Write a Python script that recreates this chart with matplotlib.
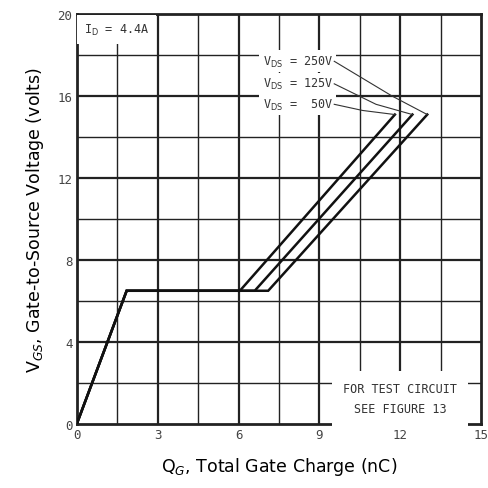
import numpy as np
import matplotlib.pyplot as plt

# gate charge curves
vds_labels = ['250V', '125V', '50V']
qg_250 = [0, 1.85, 7.1, 13.0]
qg_125 = [0, 1.85, 6.6, 12.45]
qg_50 = [0, 1.85, 6.05, 11.8]
vgs = [0, 6.5, 6.5, 15.1]

xticks = [0, 3, 6, 9, 12, 15]
yticks = [0, 4, 8, 12, 16, 20]

fig = plt.figure(figsize=(4.89, 4.89), dpi=100)
ax = fig.add_axes([0.157, 0.131, 0.827, 0.838])

# grid: minor every 1.5 / 2, major every 3 / 4
for x in np.arange(1.5, 15, 1.5):
    lw = 1.6 if x % 3 == 0 else 1.0
    ax.axvline(x, color='#222222', lw=lw, zorder=1)
for y in np.arange(2, 20, 2):
    lw = 1.6 if y % 4 == 0 else 1.0
    ax.axhline(y, color='#222222', lw=lw, zorder=1)

for q in (qg_250, qg_125, qg_50):
    ax.plot(q, vgs, color='#111111', lw=1.8, zorder=3, solid_joinstyle='miter')

mono = 'DejaVu Sans Mono'
bb = dict(facecolor='white', edgecolor='none', pad=2.5)

ax.text(0.25, 19.6, r'I$_\mathrm{D}$ = 4.4A', family=mono, fontsize=8.5, va='top',
        color='#333333', bbox=dict(facecolor='white', edgecolor='none', pad=5), zorder=4)

label_y = [17.7, 16.6, 15.6]
tips = [(13.0, 15.1), (12.45, 15.1), (11.8, 15.1)]
bends = [(11.7, 16.0), (11.1, 15.6), (10.6, 15.3)]
for lab, ly, bend, tip in zip(vds_labels, label_y, bends, tips):
    ax.text(9.5, ly, r'V$_\mathrm{DS}$ = ' + lab.rjust(4), family=mono, fontsize=8.5,
            ha='right', va='center', color='#333333', bbox=bb, zorder=4)
    ax.plot([9.55, bend[0], tip[0]], [ly, bend[1], tip[1]], color='#333333', lw=0.8, zorder=4)

ax.text(12.0, 1.25, 'FOR TEST CIRCUIT\nSEE FIGURE 13', family=mono, fontsize=8.5,
        ha='center', va='center', color='#333333', linespacing=1.7,
        bbox=dict(facecolor='white', edgecolor='none', pad=8), zorder=4)

ax.set_xlim(0, 15)
ax.set_ylim(0, 20)
ax.set_xticks(xticks)
ax.set_yticks(yticks)
ax.tick_params(length=0, labelsize=9, labelcolor='#444444', pad=3)
for lab in ax.get_xticklabels() + ax.get_yticklabels():
    lab.set_family(mono)
for s in ax.spines.values():
    s.set_linewidth(2)
    s.set_color('#222222')

ax.set_xlabel('Q$_G$, Total Gate Charge (nC)', fontsize=12.5, labelpad=10)
ax.set_ylabel('V$_{GS}$, Gate-to-Source Voltage (volts)', fontsize=12.5, labelpad=8)

fig.savefig('out.png', dpi=100)
